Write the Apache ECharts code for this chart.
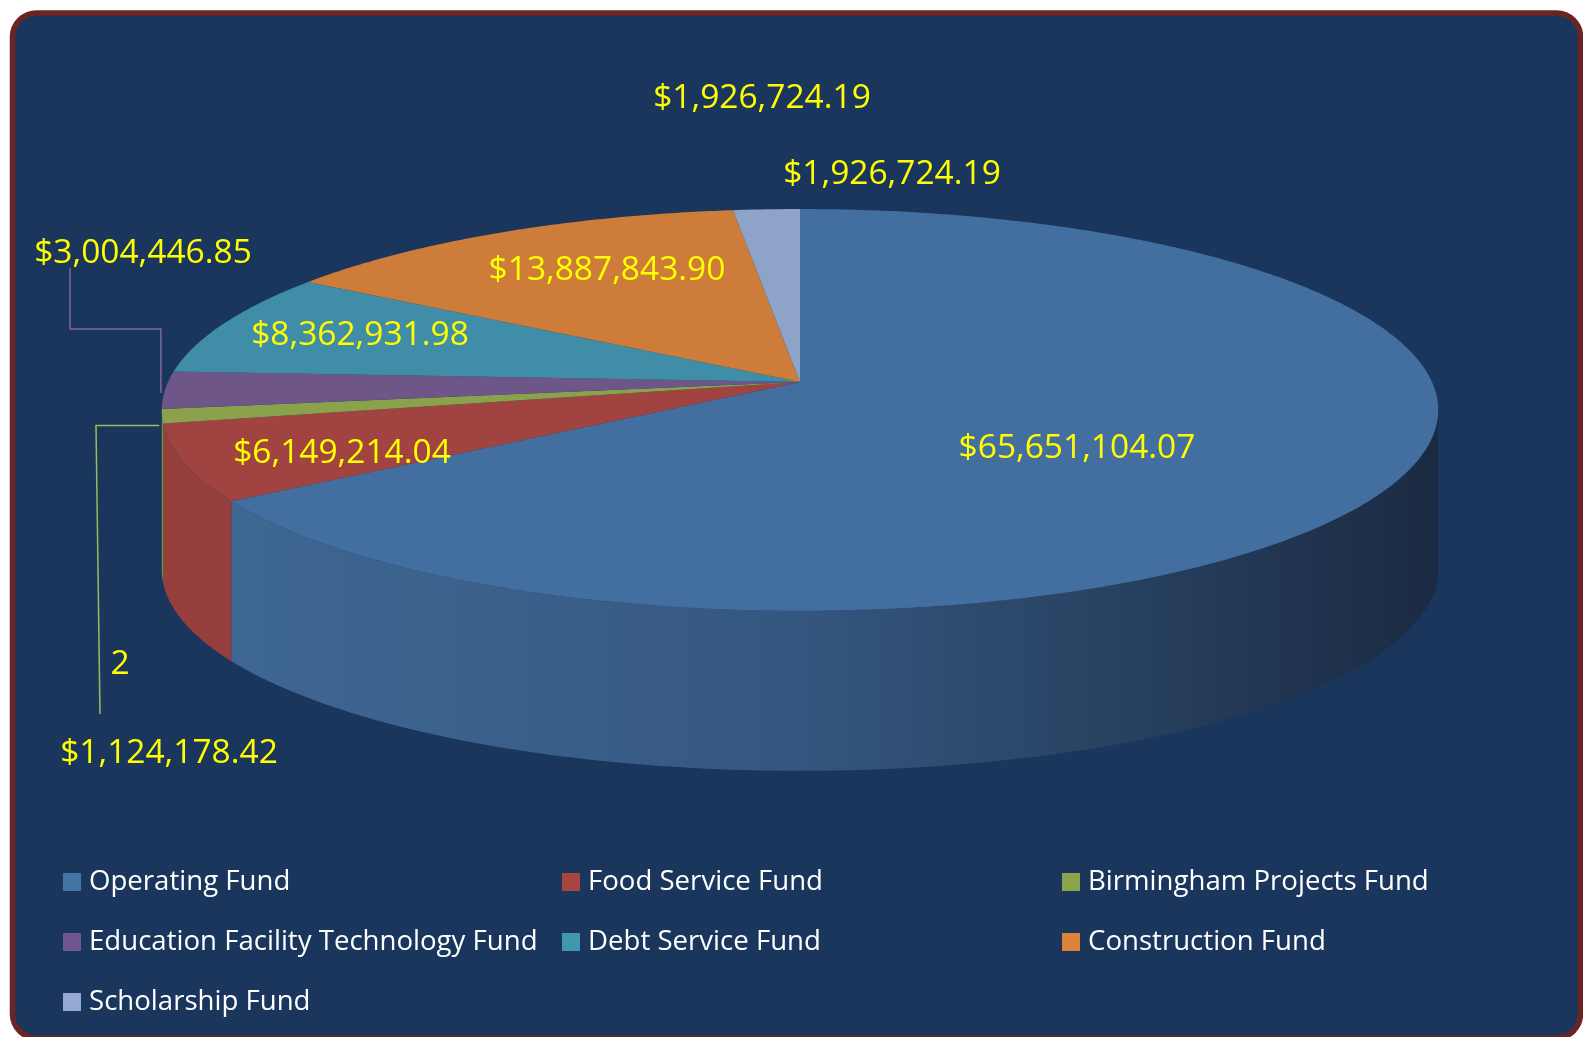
<!DOCTYPE html>
<html>
<head>
<meta charset="utf-8">
<title>Fund balances</title>
<script src="https://cdn.jsdelivr.net/npm/echarts@6/dist/echarts.min.js"></script>
<style>
  html, body { margin: 0; padding: 0; background: #ffffff; }
  #chart { width: 1583px; height: 1037px; }
</style>
</head>
<body>
<div id="chart"></div>
<script>
const FUND_NAMES = [
  "Operating Fund",
  "Food Service Fund",
  "Birmingham Projects Fund",
  "Education Facility Technology Fund",
  "Debt Service Fund",
  "Construction Fund",
  "Scholarship Fund"
];
const FUND_VALUES = [
  65651104.07,
  6149214.04,
  1124178.42,
  3004446.85,
  8362931.98,
  13887843.90,
  1926724.19
];

// slice colours: lit top face, side wall, legend swatch
const TOP_COLORS = ["#436ea0", "#a04341", "#8aa24c", "#6e5688", "#3f8da6", "#cd7c3a", "#8ea3c8"];
const SIDE_COLORS = ["#3f6794", "#953f3d", "#77903f", "#5e4a76", "#357a90", "#b06a30", "#7a8db0"];
const LEGEND_COLORS = ["#4473a6", "#a94541", "#8aa54b", "#71578f", "#4197b0", "#db833b", "#95aad3"];

// where Excel put the data labels (label index -> fund)
const LABEL_SPOTS = [
  { fund: 0, x: 1077, y: 448 },
  { fund: 1, x: 342, y: 453 },
  { fund: 4, x: 360, y: 335 },
  { fund: 5, x: 607, y: 270 },
  { fund: 6, x: 762, y: 98 },
  { fund: 6, x: 892, y: 174 },
  { fund: 3, x: 143, y: 253 },
  { fund: 2, x: 169, y: 753 }
];
const STRAY_LABEL = { text: "2", x: 120, y: 664 };

// tilted disc: cx/cy = apex, k = perspective strength, depth = wall height
const GEO = { cx: 800, cy: 382, rx: 632, ry: 197, k: 0.139, depth: 160 };

function project(phiDeg, r, drop) {
  const a = phiDeg * Math.PI / 180;
  const u = Math.sin(a) * r;
  const v = -Math.cos(a) * r;
  const w = 1 - GEO.k * v;
  return [GEO.cx + GEO.rx * u / w, GEO.cy + GEO.ry * v / w + (drop || 0)];
}

const total = FUND_VALUES.reduce((s, v) => s + v, 0);
const sliceAngles = [];
let acc = 0;
for (const v of FUND_VALUES) {
  const a0 = acc / total * 360;
  acc += v;
  sliceAngles.push([a0, acc / total * 360]);
}

// outer wall is only visible between the two silhouette points
const silhouette = Math.asin(GEO.k) * 180 / Math.PI;
const VIS0 = 90 + silhouette;
const VIS1 = 270 - silhouette;

function arcPoints(a0, a1, drop) {
  const pts = [];
  const steps = Math.max(2, Math.ceil(Math.abs(a1 - a0) / 0.5));
  for (let s = 0; s <= steps; s += 1) {
    pts.push(project(a0 + (a1 - a0) * s / steps, 1, drop));
  }
  return pts;
}

function formatMoney(v) {
  return "$" + v.toLocaleString("en-US", { minimumFractionDigits: 2, maximumFractionDigits: 2 });
}

const sliceData = FUND_VALUES.map((v, i) => ({ name: FUND_NAMES[i], value: v }));

const sideSeries = {
  type: "custom",
  name: "sides",
  coordinateSystem: "none",
  silent: true,
  z: 2,
  data: sliceData,
  renderItem(params) {
    const i = params.dataIndex;
    const b0 = Math.max(sliceAngles[i][0], VIS0);
    const b1 = Math.min(sliceAngles[i][1], VIS1);
    if (b1 <= b0) return { type: "group", children: [] };
    const pts = arcPoints(b0, b1, 0).concat(arcPoints(b1, b0, GEO.depth));
    let fill = SIDE_COLORS[i];
    if (i === 0) {
      fill = new echarts.graphic.LinearGradient(0, 0, 1, 0, [
        { offset: 0, color: "#3f6794" },
        { offset: 0.45, color: "#355881" },
        { offset: 0.75, color: "#27405f" },
        { offset: 1, color: "#1b2a42" }
      ]);
    }
    return { type: "polygon", shape: { points: pts }, style: { fill } };
  }
};

const topSeries = {
  type: "custom",
  name: "tops",
  coordinateSystem: "none",
  silent: true,
  z: 3,
  data: sliceData,
  renderItem(params) {
    const i = params.dataIndex;
    const pts = [project(0, 0)].concat(arcPoints(sliceAngles[i][0], sliceAngles[i][1], 0));
    return { type: "polygon", shape: { points: pts }, style: { fill: TOP_COLORS[i] } };
  }
};

// invisible pie only feeds the legend
const legendFeed = {
  type: "pie",
  name: "legend",
  center: [-200, -200],
  radius: [0, 1],
  silent: true,
  label: { show: false },
  labelLine: { show: false },
  data: FUND_VALUES.map((v, i) => ({ name: FUND_NAMES[i], value: v, itemStyle: { color: LEGEND_COLORS[i] } }))
};

function legendColumn(indices, left) {
  return {
    data: indices.map((i) => FUND_NAMES[i]),
    orient: "vertical",
    left,
    top: 868,
    padding: 0,
    icon: "rect",
    itemWidth: 18,
    itemHeight: 18,
    itemGap: 32,
    selectedMode: false,
    textStyle: {
      color: "#ffffff",
      fontSize: 27.6,
      lineHeight: 26,
      fontFamily: "Open Sans",
      padding: [0, 0, 0, 3]
    }
  };
}

const labelFont = '33.5px "Open Sans"';
function labelText(text, x, y) {
  return {
    type: "text",
    z: 100,
    silent: true,
    style: {
      text,
      x,
      y,
      fill: "#ffff00",
      font: labelFont,
      align: "center",
      verticalAlign: "middle",
      textAlign: "center",
      textVerticalAlign: "middle"
    }
  };
}
const labelTexts = LABEL_SPOTS.map((spot) => labelText(formatMoney(FUND_VALUES[spot.fund]), spot.x, spot.y));
labelTexts.push(labelText(STRAY_LABEL.text, STRAY_LABEL.x, STRAY_LABEL.y));

// leader lines start on the rim of their slice
const eftRim = project((sliceAngles[3][0] + sliceAngles[3][1]) / 2, 1);
const birmRim = project(sliceAngles[2][0], 1);
const leaders = [
  {
    type: "polyline",
    z: 100,
    silent: true,
    shape: { points: [[70, 268], [70, 329], [eftRim[0] - 4, 329], [eftRim[0] - 4, eftRim[1] + 3]] },
    style: { stroke: "#8064a2", lineWidth: 1.5, fill: null }
  },
  {
    type: "polyline",
    z: 100,
    silent: true,
    shape: { points: [[birmRim[0] - 4, birmRim[1] + 2], [96, birmRim[1] + 2], [100, 714]] },
    style: { stroke: "#9bbb59", lineWidth: 1.5, fill: null }
  }
];

const frame = {
  type: "rect",
  z: 0,
  silent: true,
  shape: { x: 12.5, y: 13, width: 1568, height: 1025, r: 24 },
  style: { fill: "#1a365d", stroke: "#6b2424", lineWidth: 5.5 }
};

const chart = echarts.init(document.getElementById("chart"), null, { renderer: "canvas" });
chart.setOption({
  backgroundColor: "#ffffff",
  animation: false,
  graphic: [frame].concat(leaders, labelTexts),
  legend: [
    legendColumn([0, 3, 6], 63),
    legendColumn([1, 4], 562),
    legendColumn([2, 5], 1062)
  ],
  series: [legendFeed, sideSeries, topSeries]
});
</script>
</body>
</html>
